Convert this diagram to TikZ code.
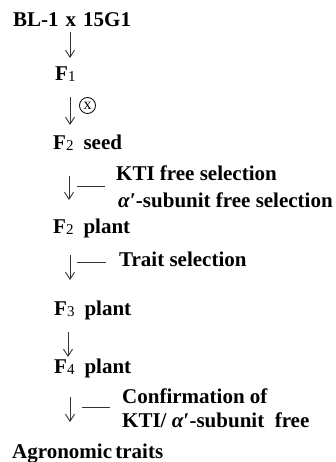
\documentclass[tikz,border=0pt]{standalone}
\usepackage{fontspec}
\setmainfont{Liberation Serif}
\usetikzlibrary{arrows.meta}
\newcommand{\gsub}[1]{\raisebox{-1pt}{\fontsize{15}{15}\selectfont\mdseries #1}}
\newcommand{\alp}{\textit{α}′}
\newcommand{\gap}{\hspace{10pt}}
\begin{document}
\begin{tikzpicture}[x=1pt,y=-1pt,
  lbl/.style={anchor=base west,inner sep=0pt,font=\fontsize{21}{23}\selectfont\bfseries},
  flow/.style={line width=0.9pt,draw=black!80,-{Straight Barb[length=7pt,width=9pt,line width=0.9pt]}},
  side/.style={line width=0.9pt,draw=black!80}]
\useasboundingbox (0,0) rectangle (336,462);
\node[lbl] (p) at (13,27) {BL-1\hspace{7pt}x\hspace{7pt}15G1};
\node[lbl] (f1) at (55,81) {F\gsub{1}};
\node[lbl] (f2s) at (53,150) {F\gsub{2}\gap seed};
\node[lbl] (kti) at (116,180) {KTI free selection};
\node[lbl] (alpha) at (118,207) {\alp-subunit free selection};
\node[lbl] (f2p) at (53,233) {F\gsub{2}\gap plant};
\node[lbl] (trait) at (119,266) {Trait selection};
\node[lbl] (f3) at (54,315) {F\gsub{3}\gap plant};
\node[lbl] (f4) at (54,373) {F\gsub{4}\gap plant};
\node[lbl] (conf) at (122,403) {Confirmation of};
\node[lbl] (conf2) at (122,427) {KTI/ \alp-subunit\ \ free};
\node[lbl] (agro) at (12,458) {Agronomic\hspace{-2pt} traits};
\node[draw,circle,line width=0.8pt,inner sep=0pt,minimum size=16pt,font=\fontsize{16}{16}\selectfont] (self) at (87.5,105.5) {x};
% arrow end points
\coordinate (a1s) at (70,32); \coordinate (a1e) at (70,58);
\coordinate (a2s) at (70,97); \coordinate (a2e) at (70,125);
\coordinate (a3s) at (69,176); \coordinate (a3e) at (69,200);
\coordinate (a4s) at (70,255); \coordinate (a4e) at (70,280);
\coordinate (a5s) at (68,332); \coordinate (a5e) at (68,357);
\coordinate (a6s) at (70,397); \coordinate (a6e) at (70,422);
\coordinate (t3s) at (77,186); \coordinate (t3e) at (105,186);
\coordinate (t4s) at (77,262); \coordinate (t4e) at (106,262);
\coordinate (t6s) at (82,407); \coordinate (t6e) at (110,407);
\draw[flow] (a1s) -- (a1e);
\draw[flow] (a2s) -- (a2e);
\draw[flow] (a3s) -- (a3e);
\draw[flow] (a4s) -- (a4e);
\draw[flow] (a5s) -- (a5e);
\draw[flow] (a6s) -- (a6e);
\draw[side] (t3s) -- (t3e);
\draw[side] (t4s) -- (t4e);
\draw[side] (t6s) -- (t6e);
\end{tikzpicture}
\end{document}
